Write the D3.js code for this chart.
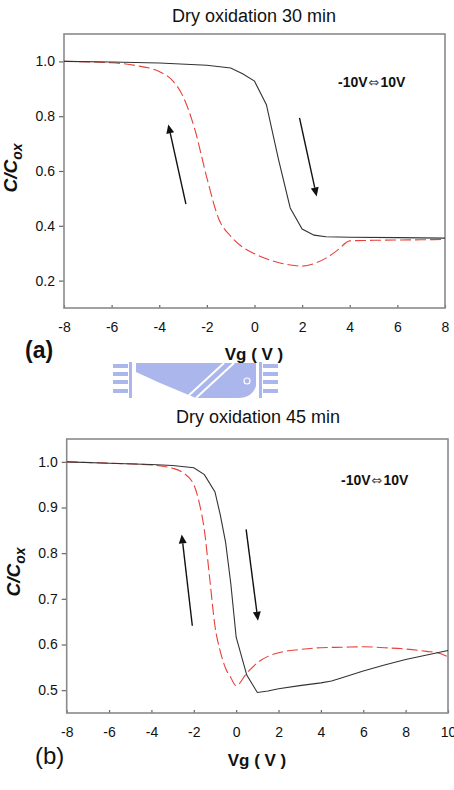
<!DOCTYPE html>
<html>
<head>
<meta charset="utf-8">
<script src="https://cdn.jsdelivr.net/npm/d3@7"></script>
<style>
  html, body { margin: 0; padding: 0; background: #fff; }
  svg { display: block; font-family: "Liberation Sans", Arial, sans-serif; }
</style>
</head>
<body>
<svg id="chart" width="454" height="790"></svg>
<script>
// ---------- DATA ----------
// Panel (a): Dry oxidation 30 min
const aTitle = "Dry oxidation 30 min";
const aXTicks = [-8, -6, -4, -2, 0, 2, 4, 6, 8];
const aYTicks = [0.2, 0.4, 0.6, 0.8, 1.0];
const aForwardV = [-8, -6, -4, -2, -1, -0.5, 0, 0.5, 1, 1.5, 2, 2.5, 3, 4, 6, 8];
const aForwardC = [1.0, 0.998, 0.994, 0.986, 0.976, 0.955, 0.928, 0.842, 0.645, 0.465, 0.388, 0.366, 0.360, 0.358, 0.357, 0.355];
const aReverseV = [-8, -6, -5, -4, -3.5, -3, -2.5, -2, -1.5, -1, -0.5, 0, 0.5, 1, 1.5, 2, 2.5, 3, 3.5, 4, 5, 6, 7, 8];
const aReverseC = [1.0, 0.995, 0.985, 0.963, 0.935, 0.872, 0.75, 0.575, 0.425, 0.362, 0.322, 0.298, 0.280, 0.266, 0.257, 0.253, 0.262, 0.282, 0.312, 0.345, 0.347, 0.348, 0.349, 0.350];

// Panel (b): Dry oxidation 45 min
const bTitle = "Dry oxidation 45 min";
const bXTicks = [-8, -6, -4, -2, 0, 2, 4, 6, 8, 10];
const bYTicks = [0.5, 0.6, 0.7, 0.8, 0.9, 1.0];
const bForwardV = [-8, -6, -4, -3, -2, -1.5, -1, -0.75, -0.5, -0.25, 0, 0.5, 1, 1.5, 2, 3, 4, 4.5, 5, 6, 7, 8, 9, 10];
const bForwardC = [1.0, 0.997, 0.994, 0.992, 0.987, 0.972, 0.934, 0.884, 0.824, 0.732, 0.616, 0.533, 0.495, 0.498, 0.503, 0.510, 0.516, 0.520, 0.527, 0.542, 0.555, 0.567, 0.577, 0.587];
const bReverseV = [-8, -6, -4, -3, -2.5, -2, -1.75, -1.5, -1.25, -1, -0.75, -0.5, -0.25, 0, 0.5, 1, 1.5, 2, 3, 4, 5, 6, 7, 8, 9, 9.5, 10];
const bReverseC = [1.0, 0.997, 0.993, 0.986, 0.976, 0.950, 0.912, 0.850, 0.745, 0.640, 0.585, 0.548, 0.527, 0.510, 0.537, 0.560, 0.574, 0.582, 0.589, 0.593, 0.594, 0.595, 0.593, 0.590, 0.585, 0.582, 0.573];

const sweepFrom = "-10V";
const sweepArrow = "\u21D4";
const sweepTo = "10V";
const xLabel = "Vg ( V )";

// ---------- DRAW ----------
const svg = d3.select("#chart");
svg.append("rect").attr("width", 454).attr("height", 790).attr("fill", "#fff");

function panel(cfg) {
  const g = svg.append("g");
  const x = d3.scaleLinear().domain(cfg.xDomain).range([cfg.left, cfg.right]);
  const y = d3.scaleLinear().domain(cfg.yDomain).range([cfg.bottom, cfg.top]);

  // title
  g.append("text").attr("x", cfg.titleX).attr("y", cfg.titleY)
    .attr("text-anchor", "middle").attr("font-size", 18).attr("fill", "#111")
    .text(cfg.title);

  // y axis ticks + labels
  const yAxis = d3.axisLeft(y).tickValues(cfg.yTicks).tickFormat(d => d.toFixed(1))
    .tickSize(5).tickPadding(4);
  const ya = g.append("g").attr("transform", `translate(${cfg.left},0)`).call(yAxis);
  ya.select(".domain").remove();
  ya.selectAll("line").attr("stroke", "#666").attr("stroke-width", 1.2);
  ya.selectAll("text").attr("font-size", 14).attr("fill", "#111")
    .attr("font-family", "Liberation Sans, Arial, sans-serif");

  // x axis ticks (inside) + labels
  const xAxis = d3.axisBottom(x).tickValues(cfg.xTicks).tickFormat(d => String(d))
    .tickSizeInner(-3).tickSizeOuter(0).tickPadding(14);
  const xa = g.append("g").attr("transform", `translate(0,${cfg.bottom})`).call(xAxis);
  xa.select(".domain").remove();
  xa.selectAll("line").attr("stroke", "#666").attr("stroke-width", 1.2);
  xa.selectAll("text").attr("font-size", 14).attr("fill", "#111")
    .attr("font-family", "Liberation Sans, Arial, sans-serif");

  // frame
  g.append("rect").attr("x", cfg.left).attr("y", cfg.top)
    .attr("width", cfg.right - cfg.left).attr("height", cfg.bottom - cfg.top)
    .attr("fill", "none").attr("stroke", "#8a8a8a").attr("stroke-width", 1.6);

  // curves
  const line = d3.line().x(d => x(d[0])).y(d => y(d[1]));
  const rev = cfg.revV.map((v, i) => [v, cfg.revC[i]]);
  const fwd = cfg.fwdV.map((v, i) => [v, cfg.fwdC[i]]);
  g.append("path").datum(rev).attr("d", line.curve(d3.curveMonotoneX))
    .attr("fill", "none").attr("stroke", "#e8403a").attr("stroke-width", 1.1)
    .attr("stroke-dasharray", "11,4");
  g.append("path").datum(fwd).attr("d", line.curve(d3.curveLinear))
    .attr("fill", "none").attr("stroke", "#333").attr("stroke-width", 1.1);

  // arrows
  cfg.arrows.forEach(a => {
    const x1 = x(a[0]), y1 = y(a[1]), x2 = x(a[2]), y2 = y(a[3]);
    const ang = Math.atan2(y2 - y1, x2 - x1);
    const L = 9, W = 4;
    const bx = x2 - L * Math.cos(ang), by = y2 - L * Math.sin(ang);
    g.append("line").attr("x1", x1).attr("y1", y1).attr("x2", bx).attr("y2", by)
      .attr("stroke", "#111").attr("stroke-width", 1.4);
    const px = -Math.sin(ang) * W, py = Math.cos(ang) * W;
    g.append("path").attr("d", `M${x2},${y2}L${bx + px},${by + py}L${bx - px},${by - py}Z`)
      .attr("fill", "#111");
  });

  // sweep label
  const sw = g.append("text").attr("x", cfg.sweepX).attr("y", cfg.sweepY)
    .attr("font-size", 14).attr("font-weight", "bold").attr("fill", "#111");
  sw.append("tspan").text(sweepFrom);
  sw.append("tspan").attr("font-family", "DejaVu Sans").attr("font-weight", "normal")
    .attr("font-size", 13).attr("fill", "#444").attr("dx", 1).text(sweepArrow);
  sw.append("tspan").attr("dx", 1).text(sweepTo);

  // y label C/Cox
  const yl = g.append("text")
    .attr("transform", `translate(${cfg.yLabX},${cfg.yLabY}) rotate(-90)`)
    .attr("text-anchor", "middle").attr("font-size", 19).attr("font-weight", "bold")
    .attr("font-style", "italic").attr("fill", "#111");
  yl.append("tspan").text("C/C");
  yl.append("tspan").attr("font-size", 14).attr("dy", 5).text("ox");

  // x label
  g.append("text").attr("x", cfg.xLabX).attr("y", cfg.xLabY).attr("text-anchor", "middle")
    .attr("font-size", 17).attr("font-weight", "bold").attr("fill", "#111").text(xLabel);

  // panel letter
  g.append("text").attr("x", cfg.letterX).attr("y", cfg.letterY)
    .attr("font-size", cfg.letterSize).attr("font-weight", cfg.letterWeight)
    .attr("fill", "#111").text(cfg.letter);
}

panel({
  title: aTitle, titleX: 254, titleY: 22,
  left: 64, right: 445, top: 34, bottom: 308,
  xDomain: [-8, 8], yDomain: [0.1, 1.1],
  xTicks: aXTicks, yTicks: aYTicks,
  fwdV: aForwardV, fwdC: aForwardC, revV: aReverseV, revC: aReverseC,
  arrows: [[-2.88, 0.479, -3.62, 0.770], [1.89, 0.794, 2.61, 0.507]],
  sweepX: 338, sweepY: 87,
  yLabX: 17, yLabY: 168,
  xLabX: 254, xLabY: 360,
  letter: "(a)", letterX: 25, letterY: 358, letterSize: 23, letterWeight: "bold"
});

panel({
  title: bTitle, titleX: 258, titleY: 423,
  left: 66.7, right: 448, top: 439, bottom: 713,
  xDomain: [-8, 10], yDomain: [0.45, 1.05],
  xTicks: bXTicks, yTicks: bYTicks,
  fwdV: bForwardV, fwdC: bForwardC, revV: bReverseV, revC: bReverseC,
  arrows: [[-2.07, 0.641, -2.57, 0.841], [0.47, 0.852, 1.03, 0.652]],
  sweepX: 341, sweepY: 485,
  yLabX: 20, yLabY: 572,
  xLabX: 257, xLabY: 766,
  letter: "(b)", letterX: 35, letterY: 764, letterSize: 24, letterWeight: "normal"
});

// ---------- watermark (logo, decorative) ----------
const wm = svg.append("g").attr("fill", "#aab6ec");
[364, 372, 380, 389].forEach(yy => {
  wm.append("rect").attr("x", 113).attr("y", yy).attr("width", 15).attr("height", 4);
  wm.append("rect").attr("x", 263).attr("y", yy).attr("width", 15).attr("height", 4);
});
wm.append("rect").attr("x", 129).attr("y", 362).attr("width", 3).attr("height", 36);
wm.append("rect").attr("x", 259).attr("y", 362).attr("width", 3).attr("height", 36);
wm.append("path").attr("d", "M136,363H256V386Q252,398 238,398H196L160,383L136,372Z");
wm.append("line").attr("x1", 186).attr("y1", 398).attr("x2", 224).attr("y2", 363)
  .attr("stroke", "#fff").attr("stroke-width", 2);
wm.append("line").attr("x1", 196).attr("y1", 398).attr("x2", 234).attr("y2", 363)
  .attr("stroke", "#fff").attr("stroke-width", 2);
wm.append("circle").attr("cx", 247).attr("cy", 381).attr("r", 3).attr("fill", "none")
  .attr("stroke", "#fff").attr("stroke-width", 1.2);
</script>
</body>
</html>
